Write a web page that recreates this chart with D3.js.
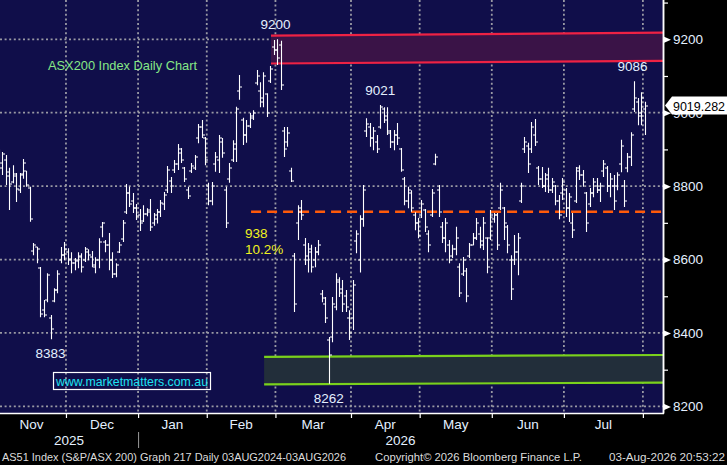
<!DOCTYPE html>
<html>
<head>
<meta charset="utf-8">
<script src="https://cdn.jsdelivr.net/npm/d3@7"></script>
<style>
  body { margin: 0; background: #000; }
  svg { display: block; }
  text { font-family: "Liberation Sans", Arial, sans-serif; }
</style>
</head>
<body>
<script>
// months shown on the x axis and how many trading days each has
var monthLabels = ["Nov", "Dec", "Jan", "Feb", "Mar", "Apr", "May", "Jun", "Jul", "Aug"];
var monthDays = [20, 21, 20, 20, 22, 20, 21, 21, 23, 1];
var yearLabels = [{year: "2025", from: 0, to: 2}, {year: "2026", from: 2, to: 10}];

var majorTicks = [8200, 8400, 8600, 8800, 9000, 9200];
var minorTicks = [8300, 8500, 8700, 8900, 9100, 9300];

// daily bars [open, high, low, close]
var nov = [[8880,8900,8844,8862],[8850,8893,8830,8888],[8872,8885,8803,8828],[8838,8850,8735,8805],
  [8812,8857,8808,8832],[8828,8836,8757,8792],[8790,8836,8781,8830],[8832,8874,8820,8862],
  [8840,8841,8798,8802],[8796,8798,8703,8710],[8622,8645,8612,8640],[8634,8634,8590,8628],
  [8578,8580,8443,8452],[8462,8490,8443,8448],[8490,8563,8484,8558],[8440,8449,8383,8412],
  [8488,8522,8484,8518],[8518,8571,8508,8560],[8598,8634,8590,8612],[8612,8648,8598,8630]];
var dec = [[8620,8631,8585,8600],[8602,8620,8563,8590],[8590,8604,8571,8598],[8596,8620,8576,8610],
  [8606,8617,8565,8580],[8600,8634,8593,8628],[8620,8628,8598,8612],[8608,8623,8579,8585],
  [8580,8606,8563,8600],[8600,8658,8576,8648],[8690,8702,8661,8700],[8648,8653,8620,8640],
  [8640,8672,8571,8600],[8600,8620,8550,8560],[8560,8590,8552,8585],[8620,8648,8618,8640],
  [8655,8708,8648,8700],[8730,8806,8724,8780],[8780,8798,8743,8750],[8760,8781,8727,8740],
  [8740,8751,8708,8718]];
var jan = [[8720,8738,8678,8700],[8705,8748,8702,8725],[8725,8740,8718,8730],[8735,8765,8678,8690],
  [8700,8727,8692,8720],[8710,8738,8698,8730],[8730,8762,8716,8755],[8750,8784,8735,8775],
  [8790,8855,8781,8845],[8815,8825,8781,8800],[8845,8871,8836,8860],[8860,8915,8844,8900],
  [8890,8904,8863,8870],[8850,8852,8811,8820],[8790,8798,8765,8772],[8840,8863,8836,8855],
  [8850,8885,8844,8878],[8930,8969,8917,8960],[8960,8980,8931,8940],[8930,8934,8857,8870]];
var feb = [[8800,8809,8748,8760],[8760,8811,8748,8800],[8860,8893,8839,8880],[8870,8939,8836,8930],
  [8920,8931,8877,8890],[8790,8798,8686,8700],[8820,8863,8809,8850],[8870,8925,8866,8915],
  [8900,9016,8866,9010],[9060,9103,9035,9070],[8980,8986,8912,8940],[8940,8980,8918,8965],
  [8965,8999,8958,8990],[8985,9007,8980,9000],[9080,9116,9075,9100],[9060,9083,9015,9030],
  [9040,9110,9015,9100],[9050,9053,8988,9000],[9085,9127,9081,9120],[9180,9198,9157,9170]];
var mar = [[9170,9200,9130,9150],[9185,9196,9062,9075],[8950,8961,8879,8900],[8920,8961,8907,8945],
  [8840,8850,8811,8815],[8610,8618,8457,8480],[8700,8748,8653,8730],[8740,8762,8708,8720],
  [8640,8659,8585,8600],[8610,8645,8565,8630],[8620,8640,8565,8580],[8600,8634,8579,8620],
  [8620,8653,8612,8640],[8505,8517,8484,8495],[8480,8498,8427,8440],[8380,8389,8262,8340],
  [8390,8498,8375,8480],[8470,8563,8462,8540],[8545,8552,8498,8510],[8520,8544,8457,8480],
  [8500,8517,8457,8470],[8440,8462,8381,8400]];
var apr = [[8440,8544,8408,8530],[8650,8680,8617,8670],[8600,8721,8565,8710],[8710,8803,8689,8790],
  [8950,8985,8934,8970],[8960,8972,8907,8930],[8930,8961,8898,8950],[8920,8939,8890,8900],
  [8960,9021,8956,9015],[9010,9015,8972,8980],[8990,9015,8939,8950],[8945,8953,8904,8920],
  [8920,8953,8898,8940],[8940,8972,8912,8930],[8900,8904,8839,8845],[8820,8825,8748,8760],
  [8760,8798,8740,8790],[8780,8789,8730,8740],[8720,8729,8680,8700],[8700,8713,8658,8665]];
var may = [[8720,8762,8713,8750],[8735,8738,8675,8690],[8670,8680,8620,8640],[8720,8792,8716,8780],
  [8860,8888,8857,8880],[8790,8803,8716,8730],[8690,8702,8645,8660],[8660,8713,8620,8700],
  [8640,8653,8590,8600],[8610,8640,8604,8630],[8630,8689,8612,8660],[8580,8590,8498,8510],
  [8560,8607,8555,8600],[8570,8577,8484,8500],[8610,8645,8604,8640],[8640,8672,8639,8660],
  [8660,8713,8653,8700],[8670,8689,8631,8640],[8650,8716,8626,8700],[8660,8661,8563,8580],
  [8660,8735,8653,8720]];
var jun = [[8710,8727,8700,8720],[8720,8727,8626,8640],[8740,8809,8735,8790],[8740,8743,8653,8700],
  [8690,8694,8617,8640],[8600,8612,8490,8520],[8600,8667,8585,8620],[8620,8672,8557,8660],
  [8760,8809,8754,8800],[8900,8934,8890,8920],[8910,8918,8836,8860],[8900,8975,8890,8960],
  [8940,8983,8909,8920],[8850,8855,8803,8820],[8820,8852,8795,8800],[8800,8836,8784,8830],
  [8820,8850,8781,8790],[8790,8822,8781,8810],[8800,8803,8748,8760],[8760,8776,8710,8720],
  [8780,8822,8762,8810]];
var jul = [[8790,8795,8716,8740],[8740,8781,8702,8770],[8700,8727,8659,8680],[8760,8852,8754,8840],
  [8850,8857,8817,8830],[8830,8844,8798,8810],[8780,8784,8675,8700],[8750,8795,8743,8780],
  [8780,8822,8770,8810],[8800,8822,8781,8790],[8790,8809,8757,8800],[8840,8871,8825,8860],
  [8850,8855,8784,8800],[8800,8836,8770,8820],[8800,8830,8735,8760],[8800,8838,8789,8830],
  [8860,8926,8838,8910],[8800,8817,8743,8760],[8850,8890,8838,8880],[8880,8947,8855,8940],
  [9010,9086,9002,9040],[9030,9040,8966,8990],[9000,9056,8966,9040]];
var aug = [[9010,9030,8939,9019.282]];
var lastPrice = 9019.282;

// annotations (bar index, value)
var highLowLabels = [
  {i: 80.5, v: 9200, text: "9200", above: true},
  {i: 111, v: 9021, text: "9021", above: true},
  {i: 184.5, v: 9086, text: "9086", above: true},
  {i: 15, v: 8383, text: "8383", above: false},
  {i: 96, v: 8262, text: "8262", above: false}
];
var resistance = {from: 79.2, left: [9210, 9134], right: [9218, 9141]};
var support = {from: 77.2, left: [8335, 8260], right: [8340, 8265]};
var retrace = {from: 73.4, to: 192.8, v: 8730, points: "938", pct: "10.2%"};

var bars = [].concat(nov, dec, jan, feb, mar, apr, may, jun, jul, aug);

// set the dimensions
var W = 727, H = 465;
var width = 663, height = 413;

var svg = d3.select("body").append("svg")
    .attr("width", W)
    .attr("height", H);

svg.append("rect").attr("width", W).attr("height", H).attr("fill", "#000");
svg.append("rect").attr("width", width).attr("height", height).attr("fill", "#100e4a");

var x = d3.scaleLinear().domain([0, bars.length - 1]).range([-1, 644.6]);
var y = d3.scaleLinear().domain([8182, 9307]).range([height, 0]);

svg.append("clipPath").attr("id", "plot")
  .append("rect").attr("width", width).attr("height", height);
var plot = svg.append("g").attr("clip-path", "url(#plot)");

// month boundaries
var starts = [], s = 0;
monthDays.forEach(function(d) { starts.push(s); s += d; });
var bounds = starts.slice(1).map(function(st) { return x(st - 0.5); });

// grid
plot.append("g").selectAll("line.h")
  .data(majorTicks).enter().append("line")
    .attr("x1", 0).attr("x2", width)
    .attr("y1", function(d) { return y(d); })
    .attr("y2", function(d) { return y(d); })
    .attr("stroke", "#9a9aa4").attr("stroke-width", 1.8)
    .attr("stroke-dasharray", "2,2.6");
plot.append("g").selectAll("line.v")
  .data(bounds).enter().append("line")
    .attr("x1", function(d) { return d; }).attr("x2", function(d) { return d; })
    .attr("y1", 0).attr("y2", height)
    .attr("stroke", "#9a9aa4").attr("stroke-width", 1.8)
    .attr("stroke-dasharray", "2,2.6");

// bands
function band(b, fill, stroke) {
  var x0 = x(b.from), x1 = width + 2;
  plot.append("path")
    .attr("d", "M" + x0 + "," + y(b.left[0]) + "L" + x1 + "," + y(b.right[0]) +
               "L" + x1 + "," + y(b.right[1]) + "L" + x0 + "," + y(b.left[1]) + "Z")
    .attr("fill", fill);
  [0, 1].forEach(function(k) {
    plot.append("line")
      .attr("x1", x0).attr("y1", y(b.left[k]))
      .attr("x2", x1).attr("y2", y(b.right[k]))
      .attr("stroke", stroke).attr("stroke-width", 2.2);
  });
}
band(resistance, "#3a1347", "#ee2244");
band(support, "#222e3a", "#7ad11c");

// orange dashed retracement line
plot.append("line")
  .attr("x1", x(retrace.from)).attr("x2", x(retrace.to))
  .attr("y1", y(retrace.v)).attr("y2", y(retrace.v))
  .attr("stroke", "#ff5a0a").attr("stroke-width", 2.6)
  .attr("stroke-dasharray", "10,6");

// OHLC bars
plot.append("g").selectAll("path")
  .data(bars).enter().append("path")
    .attr("d", function(d, i) {
      var cx = Math.round(x(i)) + 0.5;
      return "M" + cx + "," + y(d[1]) + "V" + y(d[2]) +
             "M" + (cx - 2.5) + "," + Math.round(y(d[0])) + "H" + cx +
             "M" + cx + "," + Math.round(y(d[3])) + "H" + (cx + 2.5);
    })
    .attr("stroke", "#fff").attr("stroke-width", 1.1)
    .attr("fill", "none");

// labels
svg.append("g").selectAll("text")
  .data(highLowLabels).enter().append("text")
    .attr("x", function(d) { return x(d.i); })
    .attr("y", function(d) { return d.above ? y(d.v) - 10 : y(d.v) + 19; })
    .attr("text-anchor", "middle")
    .attr("font-size", 13.5).attr("fill", "#e4f0ff")
    .text(function(d) { return d.text; });

svg.append("text").attr("x", 245).attr("y", 238)
  .attr("font-size", 13.5).attr("fill", "#f2f21e").text(retrace.points);
svg.append("text").attr("x", 245).attr("y", 254)
  .attr("font-size", 13.5).attr("fill", "#f2f21e").text(retrace.pct);

svg.append("text").attr("x", 48).attr("y", 70)
  .attr("font-size", 13.5).attr("fill", "#86e886")
  .attr("textLength", 149).attr("lengthAdjust", "spacingAndGlyphs")
  .text("ASX200 Index Daily Chart");

svg.append("rect").attr("x", 53.5).attr("y", 372.5).attr("width", 157).attr("height", 17)
  .attr("fill", "none").attr("stroke", "#fff").attr("stroke-width", 1.2);
svg.append("text").attr("x", 56).attr("y", 386)
  .attr("font-size", 13).attr("fill", "#1ee3f2")
  .attr("textLength", 152).attr("lengthAdjust", "spacingAndGlyphs")
  .text("www.marketmatters.com.au");

// right axis
var minorAxis = svg.append("g")
    .attr("transform", "translate(" + width + ",0)")
    .call(d3.axisRight(y).tickValues(minorTicks).tickSize(5).tickFormat(""));
var majorAxis = svg.append("g")
    .attr("transform", "translate(" + width + ",0)")
    .call(d3.axisRight(y).tickValues(majorTicks).tickSize(0).tickPadding(10)
      .tickFormat(d3.format("d")));
[minorAxis, majorAxis].forEach(function(a) {
  a.select(".domain").attr("stroke", "#fff").attr("stroke-width", 1.5)
    .attr("d", "M0.5,0V" + (height + 0.5));
  a.selectAll(".tick line").attr("stroke", "#fff").attr("stroke-width", 1.2);
});
majorAxis.selectAll(".tick text")
  .attr("fill", "#e4f0ff").attr("font-size", 13.5)
  .attr("font-family", "'Liberation Sans', Arial, sans-serif");
majorAxis.selectAll(".tick").append("path")
  .attr("d", "M0,-3.5L8,0L0,3.5Z").attr("fill", "#fff");

// last price marker
var yl = y(lastPrice);
svg.append("path")
  .attr("d", "M665," + yl + "L672," + (yl - 9) + "L728," + (yl - 9) + "L728," + (yl + 9) + "L672," + (yl + 9) + "Z")
  .attr("fill", "#fff");
svg.append("text").attr("x", 673).attr("y", yl + 5)
  .attr("font-size", 13.5).attr("fill", "#000")
  .attr("textLength", 52).attr("lengthAdjust", "spacingAndGlyphs")
  .text(d3.format(".3f")(lastPrice));

// bottom axis
var xAxis = svg.append("g")
    .attr("transform", "translate(0," + height + ")")
    .call(d3.axisBottom(d3.scaleIdentity()).tickValues(bounds).tickSize(5).tickFormat(""));
xAxis.select(".domain").attr("stroke", "#fff").attr("stroke-width", 1.5)
  .attr("d", "M0,0.5H" + (width + 1));
xAxis.selectAll(".tick line").attr("stroke", "#fff").attr("stroke-width", 1.2);

svg.append("g").selectAll("text")
  .data(monthLabels.slice(0, 9)).enter().append("text")
    .attr("x", function(d, k) { return x((starts[k] + starts[k + 1]) / 2 - 0.5); })
    .attr("y", 429)
    .attr("text-anchor", "middle")
    .attr("font-size", 13.5).attr("fill", "#e4f0ff")
    .text(function(d) { return d; });

svg.append("g").selectAll("text")
  .data(yearLabels).enter().append("text")
    .attr("x", function(d) {
      var a = d.from === 0 ? 0 : bounds[d.from - 1];
      var b = d.to >= monthLabels.length ? width : bounds[d.to - 1];
      return (a + b) / 2;
    })
    .attr("y", 445)
    .attr("text-anchor", "middle")
    .attr("font-size", 13.5).attr("fill", "#e4f0ff")
    .text(function(d) { return d.year; });

svg.append("line")
  .attr("x1", bounds[1] + 0.5).attr("x2", bounds[1] + 0.5)
  .attr("y1", 432).attr("y2", 448)
  .attr("stroke", "#9a9a9a").attr("stroke-width", 1);

// footer
var footer = [
  {x: 2, w: 344, t: "AS51 Index (S&P/ASX 200) Graph 217 Daily 03AUG2024-03AUG2026"},
  {x: 375, w: 207, t: "Copyright\u00a9 2026 Bloomberg Finance L.P."},
  {x: 609, w: 116, t: "03-Aug-2026 20:53:22"}
];
svg.append("g").selectAll("text")
  .data(footer).enter().append("text")
    .attr("x", function(d) { return d.x; })
    .attr("y", 461)
    .attr("font-size", 11.5).attr("fill", "#dcdcdc")
    .attr("textLength", function(d) { return d.w; })
    .attr("lengthAdjust", "spacingAndGlyphs")
    .text(function(d) { return d.t; });
</script>
</body>
</html>
